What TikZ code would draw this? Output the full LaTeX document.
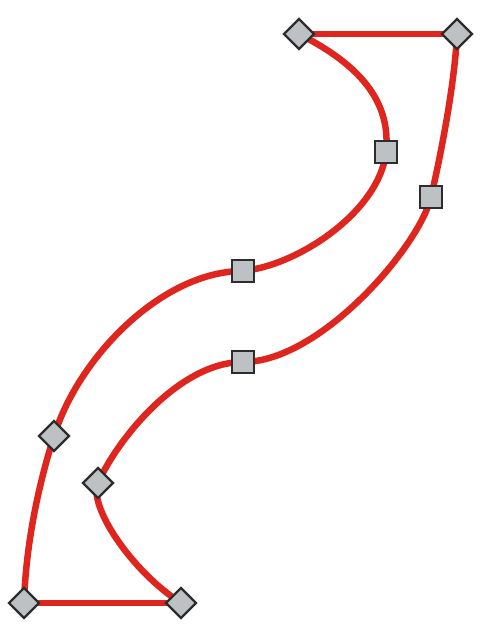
\documentclass[tikz,border=0pt]{standalone}
\usetikzlibrary{shapes.geometric,backgrounds}
\definecolor{curvered}{RGB}{222,38,30}
\definecolor{markfill}{RGB}{190,193,196}
\definecolor{markdraw}{RGB}{45,45,45}
\tikzset{
  redline/.style={draw=curvered,line width=6.5pt,line cap=round},
  dia/.style={diamond,draw=markdraw,fill=markfill,line width=2.2pt,minimum width=31pt,minimum height=31pt,inner sep=0pt},
  sq/.style={rectangle,draw=markdraw,fill=markfill,line width=2.2pt,minimum size=22pt,inner sep=0pt}
}
\begin{document}
\begin{tikzpicture}[x=1pt,y=1pt]
\useasboundingbox (0,0) rectangle (488,-627);
% markers
\node[dia] (A) at (299,-34) {};
\node[dia] (B) at (457,-34) {};
\node[sq]  (C) at (386,-152) {};
\node[sq]  (D) at (431,-197) {};
\node[sq]  (E) at (243,-271) {};
\node[sq]  (F) at (243,-362) {};
\node[dia] (G) at (54,-436) {};
\node[dia] (H) at (98,-483) {};
\node[dia] (I) at (24,-603) {};
\node[dia] (J) at (181,-603) {};
\begin{pgfonlayer}{background}
\draw[redline] (A.center) -- (B.center);
\draw[redline] (I.center) -- (J.center);
\draw[redline] (I.center) .. controls (26,-540) and (40,-480) .. (G.center)
  .. controls (79,-356) and (163,-271) .. (E.center)
  .. controls (300,-265) and (380,-210) .. (C.center)
  .. controls (392,-95) and (350,-60) .. (A.center);
\draw[redline] (B.center) .. controls (455,-80) and (442,-150) .. (D.center)
  .. controls (419,-247) and (320,-362) .. (F.center)
  .. controls (180,-362) and (118,-438) .. (H.center)
  .. controls (88,-505) and (130,-570) .. (J.center);
\end{pgfonlayer}
\end{tikzpicture}
\end{document}
